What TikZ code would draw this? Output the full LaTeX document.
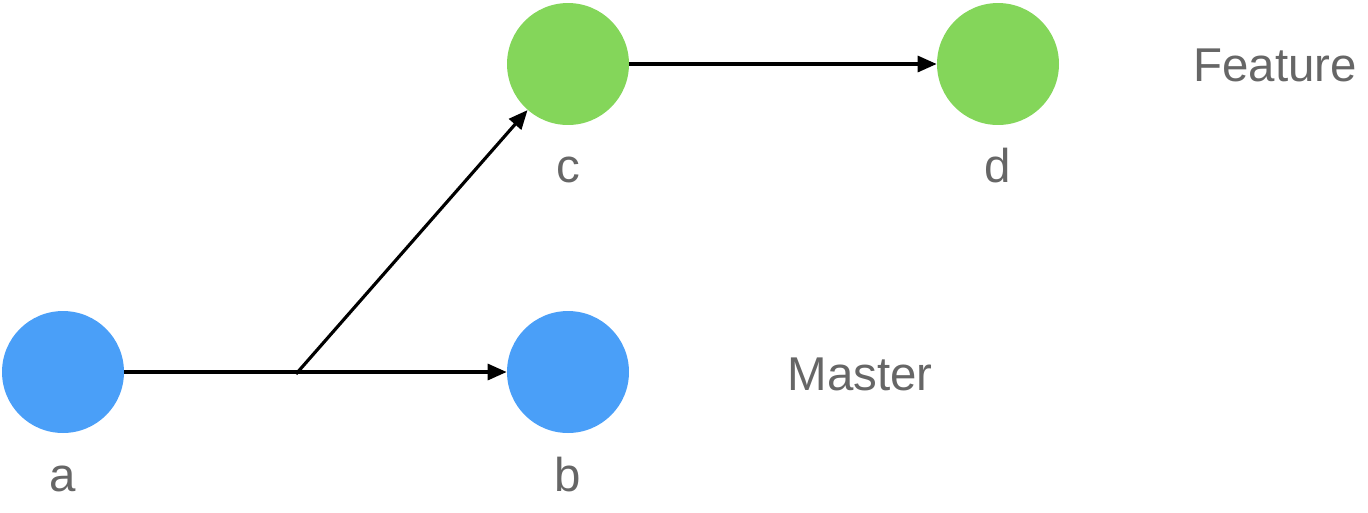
\documentclass[tikz,border=0pt]{standalone}
\usepackage{fontspec}
\setmainfont{Liberation Sans}
\usetikzlibrary{arrows.meta}
\definecolor{mblue}{HTML}{4A9FF8}
\definecolor{fgreen}{HTML}{84D65A}
\definecolor{lblgray}{HTML}{666666}
\tikzset{
  commit/.style = {circle, minimum size = 2.44cm, inner sep = 0pt},
  lbl/.style = {text = lblgray, font = \fontsize{27}{30}\selectfont, anchor = base},
  link/.style = {line width = 1.8pt, -{Triangle[length=0.38cm, width=0.32cm]}}
}
\begin{document}
\begin{tikzpicture}[x = 0.02cm, y = -0.02cm]
      \useasboundingbox (0,0) rectangle (1368,512);
      % commits
      \node[commit, fill = mblue]  (a) at (63,372) {};
      \node[commit, fill = mblue]  (b) at (568,372) {};
      \node[commit, fill = fgreen] (c) at (568,64) {};
      \node[commit, fill = fgreen] (d) at (998,64) {};
      \node[lbl] (la) at (63,491) {a};
      \node[lbl] (lb) at (568,491) {b};
      \node[lbl] (lc) at (568,182) {c};
      \node[lbl] (ld) at (998,182) {d};
      % branch names
      \node[lbl] (feature) at (1275,81) {Feature};
      \node[lbl] (master) at (860,390) {Master};
      % history
      \coordinate (fork) at (296,374);
      \draw[link] (a) -- (b);
      \draw[link] (fork) -- (c);
      \draw[link] (c) -- (d);
    \end{tikzpicture}
\end{document}
